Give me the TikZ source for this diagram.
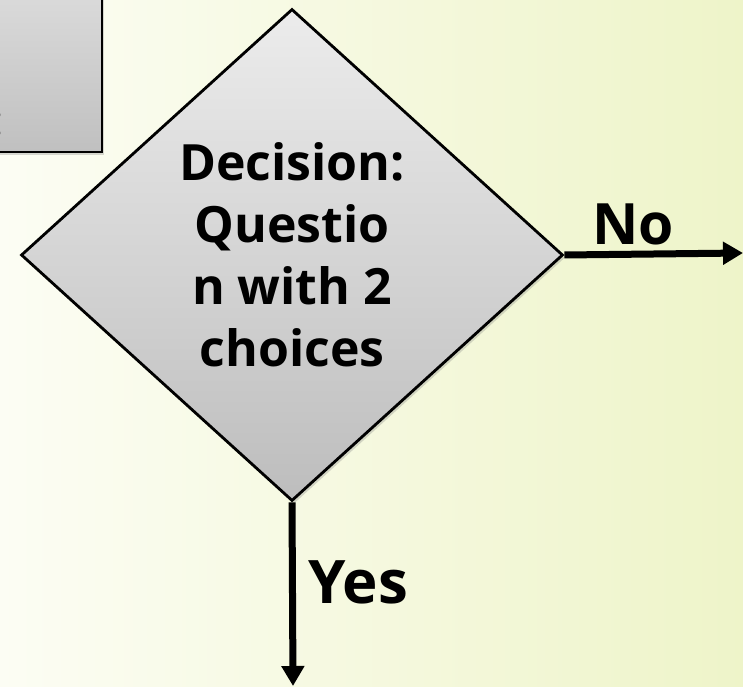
\documentclass[tikz,border=0pt]{standalone}
\usepackage{fontspec}
\setmainfont{Open Sans}
\usetikzlibrary{shapes.geometric,arrows.meta,shadows}
\definecolor{bgL}{HTML}{FCFDF4}
\definecolor{bgR}{HTML}{EEF4C9}
\definecolor{dTop}{HTML}{ECECEC}
\definecolor{dBot}{HTML}{BDBDBD}
\definecolor{bTop}{HTML}{DEDEDE}
\definecolor{bBot}{HTML}{C0C0C0}
\begin{document}
\begin{tikzpicture}[x=1pt,y=1pt,
  flow/.style={line width=7pt, -{Triangle[length=20pt,width=22pt]}},
  lbl/.style={inner sep=0pt, font=\bfseries},
  shad/.style={drop shadow={opacity=0.3, shadow xshift=2pt, shadow yshift=-3pt}},
  ]
\useasboundingbox (0,0) rectangle (743,686);
\shade[left color=bgL,right color=bgR] (0,0) rectangle (743,686);
% partial box at the top left
\node[draw=black, line width=2pt, top color=bTop, bottom color=bBot, shad,
      minimum width=200pt, minimum height=180pt, anchor=south east, inner sep=0pt] (box) at (103,533) {};
\node[lbl, anchor=base east, font=\fontsize{45}{50}\selectfont\bfseries] (boxtxt) at (4,549) {:};
% decision diamond
\node[diamond, draw=black, line width=2.8pt, top color=dTop, bottom color=dBot, shad,
      minimum width=542pt, minimum height=492pt, inner sep=0pt, align=center,
      font=\fontsize{50}{62}\selectfont\bfseries] (d) at (292,431)
      {Decision:\\Questio\\n with 2\\choices};
\coordinate (endR) at (743,433);
\coordinate (endB) at (293,0);
\draw[flow] (d.east) -- (endR);
\draw[flow] (d.south) -- (endB);
\node[lbl, anchor=base, font=\fontsize{57}{60}\selectfont\bfseries] (no) at (633,441) {No};
\node[lbl, anchor=base west, font=\fontsize{60}{64}\selectfont\bfseries] (yes) at (308,83) {Yes};
\end{tikzpicture}
\end{document}
